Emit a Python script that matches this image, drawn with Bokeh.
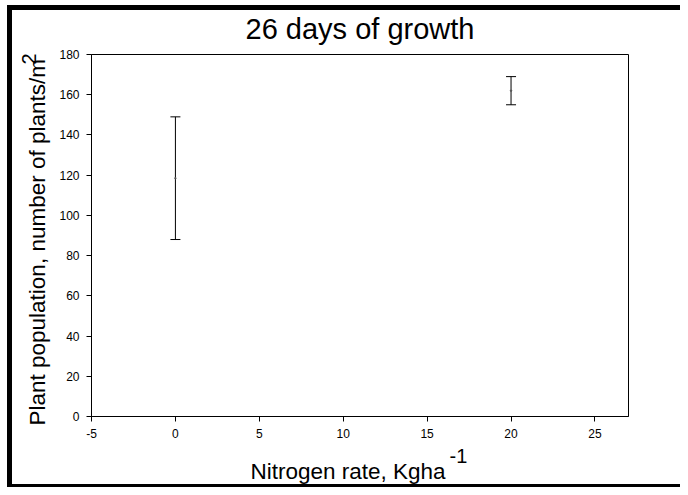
from bokeh.plotting import figure
from bokeh.models import ColumnDataSource, Whisker, TeeHead, FixedTicker, Range1d, Title
from bokeh.embed import file_html
from bokeh.resources import INLINE

# data
nitrogen = [0, 20]
mean_pop = [118.5, 162.0]
lower_pop = [88.0, 155.0]
upper_pop = [149.0, 169.0]
x_ticks = [-5, 0, 5, 10, 15, 20, 25]
y_ticks = [0, 20, 40, 60, 80, 100, 120, 140, 160, 180]
x_label = "Nitrogen rate, Kgha"
x_label_sup = "-1"
y_label = "Plant population, number of plants/m"
y_label_sup = "2"

FONT = "Liberation Sans"

src = ColumnDataSource(dict(x=nitrogen, mean=mean_pop, lower=lower_pop, upper=upper_pop))

p = figure(width=680, height=487, output_backend="svg", toolbar_location=None,
           x_range=Range1d(-5, 27), y_range=Range1d(0, 180),
           min_border_left=91, min_border_right=52, min_border_top=51, min_border_bottom=71,
           title="26 days of growth")
p.styles = {
    "background-color": "white",
    "box-shadow": ("inset 0 5px 0 0 white, inset 7px 0 0 0 white, "
                   "inset 0 10px 0 0 black, inset 12px 0 0 0 black, "
                   "inset 0 -3px 0 0 black"),
}

p.title.text_font = FONT
p.title.text_font_size = "29px"
p.title.text_font_style = "normal"
p.title.align = "center"
p.title.text_color = "black"
p.title.standoff = 20

p.xgrid.visible = False
p.ygrid.visible = False
p.outline_line_color = "black"
p.outline_line_width = 1
p.background_fill_color = "white"
p.border_fill_color = None

for ax in (p.xaxis[0], p.yaxis[0]):
    ax.axis_line_color = "black"
    ax.major_tick_line_color = "black"
    ax.major_tick_in = 0
    ax.major_tick_out = 5
    ax.minor_tick_line_color = None
    ax.major_label_text_font = FONT
    ax.major_label_text_font_size = "12px"
    ax.major_label_text_color = "black"
    ax.major_label_standoff = 7

p.xaxis[0].ticker = FixedTicker(ticks=x_ticks)
p.yaxis[0].ticker = FixedTicker(ticks=y_ticks)
p.xaxis[0].major_label_overrides = {-5: "-5"}


def side_title(text, size, offset, standoff):
    return Title(text=text, align="left", offset=offset, standoff=standoff,
                 text_font=FONT, text_font_size=size, text_font_style="normal",
                 text_color="black")


# x axis title (superscript first: it sits closer to the axis)
p.add_layout(side_title(x_label_sup, "20px", 358, 12), "below")
p.add_layout(side_title(x_label, "22.5px", 159, -24), "below")
# y axis title (main text closer to the axis, superscript further out)
p.add_layout(side_title(y_label, "22.5px", -9, 14), "left")
p.add_layout(side_title(y_label_sup, "20px", 352, -41), "left")

w = Whisker(source=src, base="x", upper="upper", lower="lower", dimension="height",
            line_color="black", line_width=1,
            upper_head=TeeHead(size=10, line_color="black", line_width=1),
            lower_head=TeeHead(size=10, line_color="black", line_width=1))
p.add_layout(w)
p.scatter(x="x", y="mean", source=src, size=1.5, color="#555555")

open("out.html", "w").write(file_html(p, INLINE))
